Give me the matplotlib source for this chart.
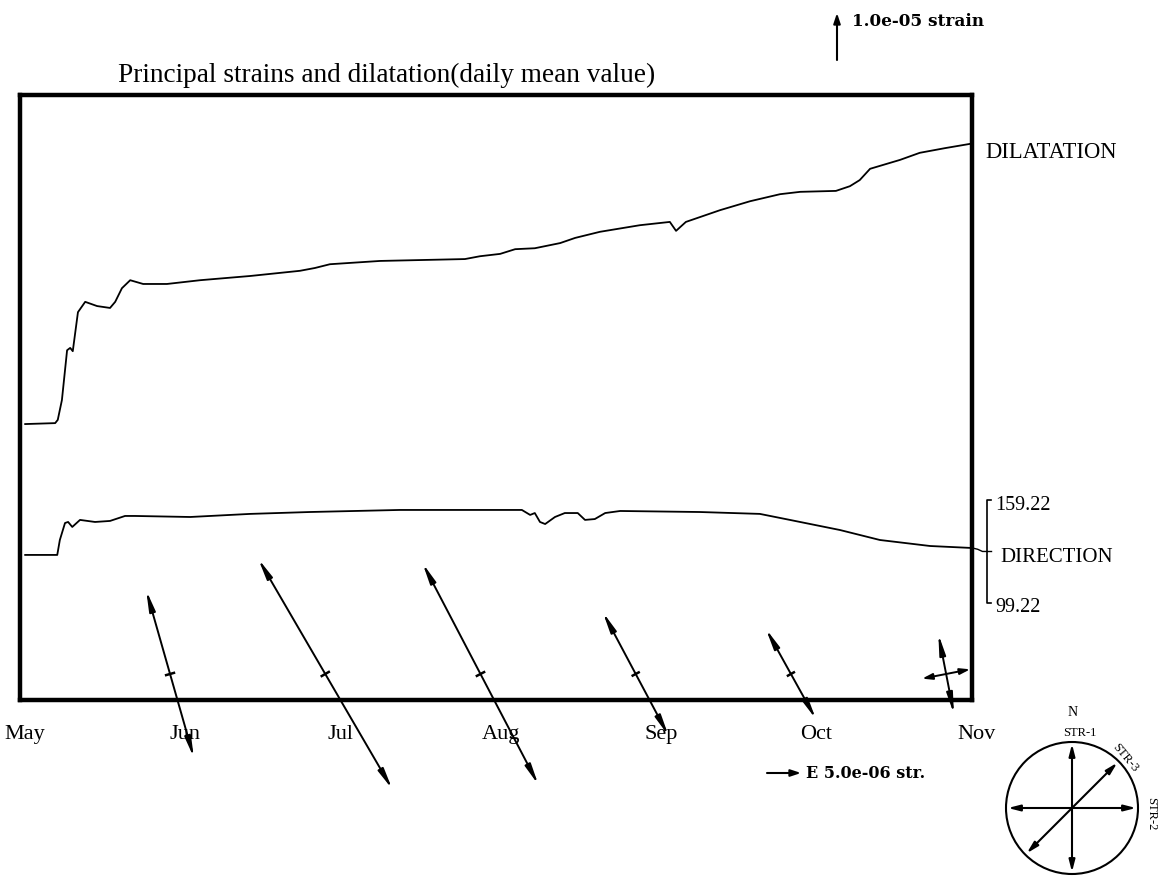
import numpy as np
import matplotlib
matplotlib.use('Agg')
import matplotlib.pyplot as plt
from matplotlib.transforms import ScaledTranslation

# days since May 1
dil_day = [1.0, 6.8, 7.3, 8.1, 9.1, 9.7, 10.2, 11.2, 12.6, 14.9, 17.4, 18.4, 19.7, 21.3,
           23.8, 28.4, 34.8, 44.5, 54.1, 57.0, 59.9, 69.6, 86.0, 88.9, 92.8, 95.7, 99.5,
           104.4, 107.3, 112.1, 119.8, 125.6, 126.8, 128.7, 135.3, 141.1, 146.9, 150.8,
           157.7, 160.4, 162.3, 164.3, 170.1, 173.9, 178.8, 183.6]
# dilatation, 1e-6 strain (relative)
dil_val = [0.0, 0.2, 0.9, 5.1, 15.7, 16.2, 15.5, 23.8, 26.0, 25.1, 24.7, 26.0, 28.9, 30.6,
           29.8, 29.8, 30.6, 31.5, 32.6, 33.2, 34.0, 34.7, 35.1, 35.7, 36.2, 37.2, 37.4,
           38.5, 39.6, 40.9, 42.3, 43.0, 41.1, 43.0, 45.5, 47.4, 48.9, 49.4,
           49.6, 50.6, 51.9, 54.3, 56.2, 57.7, 58.7, 59.6]

dir_day = [1.0, 7.2, 7.7, 8.7, 9.3, 10.1, 11.6, 14.5, 17.4, 20.3, 22.2, 32.9, 44.5, 56.0,
           73.4, 92.8, 97.0, 98.6, 99.5, 100.5, 101.5, 103.4, 105.3, 107.8, 109.2, 111.1,
           113.1, 116.0, 131.4, 143.0, 148.8, 158.5, 166.2, 175.9, 183.6]
# direction of principal strain, degrees
dir_val = [127.2, 127.2, 135.9, 145.8, 146.4, 143.5, 147.6, 146.4, 147.0, 149.9, 149.9,
           149.3, 151.1, 152.2, 153.4, 153.4, 153.4, 150.5, 151.6, 146.4, 145.2, 149.3,
           151.6, 151.6, 147.6, 148.1, 151.6, 152.8, 152.2, 151.1, 147.6, 141.7, 135.9,
           132.4, 131.3]

months = ['May', 'Jun', 'Jul', 'Aug', 'Sep', 'Oct', 'Nov']
month_day = [0, 31, 61, 92, 123, 153, 184]

# monthly principal strains (1e-6 strain), azimuth of major axis (deg from N)
ps_day = [29, 59, 89, 119, 149, 179]
ps_major = [12.8, 19.6, 18.4, 10.3, 7.6, 6.0]
ps_minor = [0.6, 0.6, 0.6, 0.5, 0.5, 3.6]
ps_azim = [344.1, 329.8, 332.4, 332.0, 331.0, 349.0]

dir_lo, dir_hi = 99.22, 159.22

W, H = 1158, 877
fig = plt.figure(figsize=(W / 100, H / 100), dpi=100)
plt.rcParams['font.family'] = ['Liberation Serif', 'DejaVu Serif']

L, R, T, B = 20, 972, 95, 700
rect = [L / W, (H - B) / H, (R - L) / W, (B - T) / H]
ax = fig.add_axes(rect)
ax2 = fig.add_axes(rect)
ax2.patch.set_visible(False)
for s in ax2.spines.values():
    s.set_visible(False)
ax2.set_xticks([])
ax2.set_yticks([])

ax.set_xlim(0, 184)
ax.set_ylim(-58.7, 70.0)
ax2.set_xlim(0, 184)
ax2.set_ylim(42.7, 395.1)

for s in ax.spines.values():
    s.set_linewidth(3.2)
ax.set_yticks([])
ax.set_xticks(month_day)
ax.set_xticklabels(months, fontsize=16)
ax.tick_params(axis='x', length=0, pad=18)
shift = ScaledTranslation(5 / 100, 0, fig.dpi_scale_trans)
for lab in ax.get_xticklabels():
    lab.set_transform(lab.get_transform() + shift)

ax.plot(dil_day, dil_val, color='black', lw=1.3)
ax2.plot(dir_day, dir_val, color='black', lw=1.3)

# bracket for direction scale
bt = ax2.get_yaxis_transform()
bx = 1.0158
ax2.plot([bx + 0.004, bx, bx, bx + 0.004], [dir_hi, dir_hi, dir_lo, dir_lo],
         transform=bt, color='black', lw=1.2, clip_on=False)
mid = (dir_hi + dir_lo) / 2
ax2.plot([bx, bx + 0.004], [mid, mid], transform=bt, color='black', lw=1.0, clip_on=False)
ax2.plot([1.0, 1.006, 1.011, bx], [dir_val[-1], dir_val[-1] - 0.8, mid, mid],
         transform=bt, color='black', lw=1.0, clip_on=False)

# overlay in pixel units
ov = fig.add_axes([0, 0, 1, 1])
ov.set_xlim(0, W)
ov.set_ylim(H, 0)
ov.axis('off')
ov.set_zorder(5)


def to_px(trans, pt):
    d = trans.transform(pt)
    return ov.transData.inverted().transform(d)


px_per_str = 34.0 / 5.0     # horizontal arrow scale: px per 1e-6 strain
y0 = to_px(ax.transData, (0, 0))[1]
y1 = to_px(ax.transData, (0, 10))[1]
dil_px = abs(y0 - y1) / 10.0


def arrow(p0, p1, lw=1.5, hl=1.1, hw=0.22):
    ov.annotate('', xy=p1, xytext=p0,
                arrowprops=dict(arrowstyle='-|>,head_length=%g,head_width=%g' % (hl, hw),
                                lw=lw, color='black', shrinkA=0, shrinkB=0))


xt = ax.get_xaxis_transform()
for d, mj, mn, az in zip(ps_day, ps_major, ps_minor, ps_azim):
    c = to_px(xt, (d, 0.043))
    for a, m in ((az, mj), (az + 90, mn)):
        r = np.radians(a)
        v = np.array([np.sin(r), -np.cos(r)]) * m * px_per_str
        if m > 1.0:
            hl = 1.2 if m > 5 else 0.6
            arrow(c, c + v, lw=1.4, hl=hl, hw=0.18)
            arrow(c, c - v, lw=1.4, hl=hl, hw=0.18)
        else:
            ov.plot([c[0] - v[0], c[0] + v[0]], [c[1] - v[1], c[1] + v[1]],
                    color='black', lw=1.8)

# texts
ov.text(118, 75, 'Principal strains and dilatation(daily mean value)', fontsize=19.6,
        va='center', ha='left')
ov.text(985, 152, 'DILATATION', fontsize=16.3, va='center')
ov.text(995, 506, '159.22', fontsize=14.5, va='center')
ov.text(1000, 557, 'DIRECTION', fontsize=15, va='center')
ov.text(995, 607, '99.22', fontsize=14.5, va='center')

# scale arrows
arrow((837, 60), (837, 60 - 10 * dil_px), lw=1.5, hl=0.6, hw=0.2)
ov.text(852, 21, '1.0e-05 strain', fontsize=12.2, fontweight='bold',
        family='DejaVu Serif', va='center')
arrow((767, 773), (767 + 5.0 * px_per_str, 773), lw=1.5, hl=0.6, hw=0.2)
ov.text(806, 774, 'E 5.0e-06 str.', fontsize=11.5, fontweight='bold',
        family='DejaVu Serif', va='center')

# compass
cx, cy, cr = 1072, 808, 66
ov.add_patch(plt.Circle((cx, cy), cr, fill=False, lw=1.5, color='black'))
for a in (0, 90, 45):
    r = np.radians(a)
    v = np.array([np.sin(r), -np.cos(r)]) * (cr - 2)
    arrow((cx, cy), (cx + v[0], cy + v[1]), lw=1.5, hl=0.7, hw=0.18)
    arrow((cx, cy), (cx - v[0], cy - v[1]), lw=1.5, hl=0.7, hw=0.18)
ov.text(1073, 713, 'N', fontsize=10, ha='center', va='center')
ov.text(1080, 733, 'STR-1', fontsize=9, ha='center', va='center')
ov.text(1125, 758, 'STR-3', fontsize=9, ha='center', va='center', rotation=-50)
ov.text(1151, 814, 'STR-2', fontsize=9, ha='center', va='center', rotation=-90)

fig.savefig('out.png', dpi=100)
